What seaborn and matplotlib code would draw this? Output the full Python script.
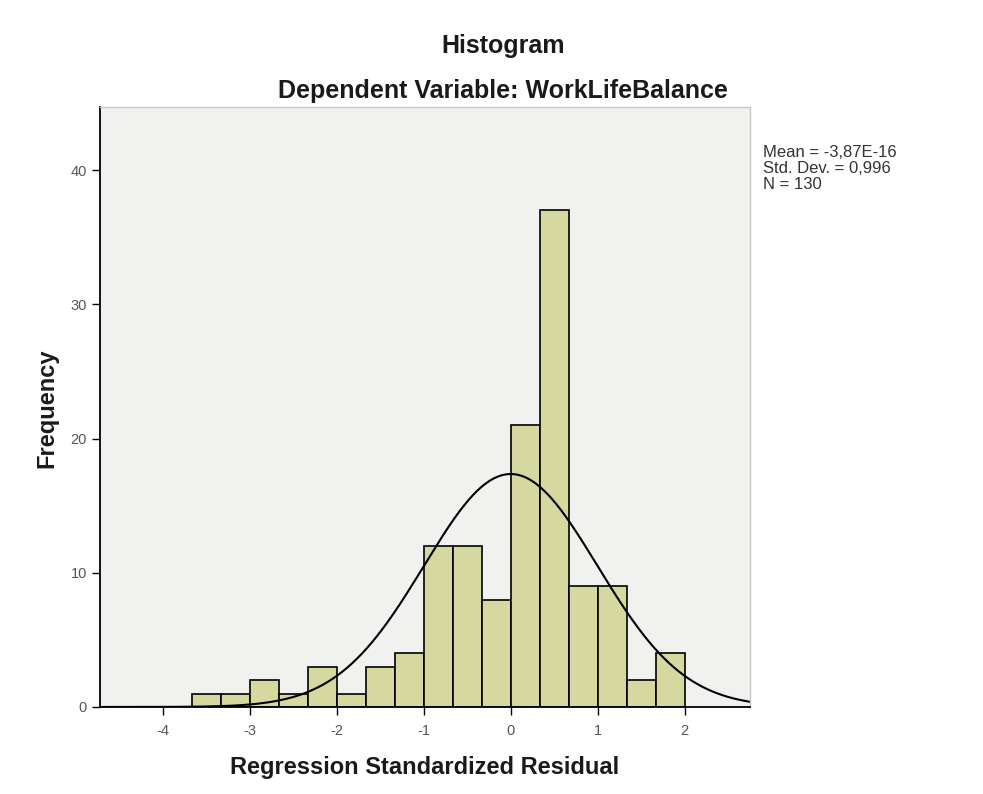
import numpy as np
import pandas as pd
import matplotlib
matplotlib.use("Agg")
import matplotlib.pyplot as plt
import seaborn as sns

# bin counts (bin width 1/3, first edge -3.667)
bin_start = -11 / 3
bin_width = 1 / 3
counts = [1, 1, 2, 1, 3, 1, 3, 4, 12, 12, 8, 21, 37, 9, 9, 2, 4]

stat_mean = -3.87e-16
stat_sd = 0.996
stat_n = 130

x_ticks = [-4, -3, -2, -1, 0, 1, 2]
y_ticks = [0, 10, 20, 30, 40]

edges = bin_start + bin_width * np.arange(len(counts) + 1)
df = pd.DataFrame({"resid": (edges[:-1] + edges[1:]) / 2, "n": counts})

sns.set_style("white")
plt.rcParams["font.family"] = ["Liberation Sans", "DejaVu Sans"]
plt.rcParams["axes.unicode_minus"] = False

fig = plt.figure(figsize=(9.83, 7.94), dpi=100)
ax = fig.add_axes([0.1017, 0.1096, 0.6613, 0.7556])
ax.set_facecolor("#f1f1f0")

sns.histplot(data=df, x="resid", weights="n", bins=list(edges), ax=ax,
             color="#d5d9a0", edgecolor="black", linewidth=1.2, alpha=1)

# normal curve scaled to counts
xs = np.linspace(-4.72, 2.75, 400)
pdf = np.exp(-0.5 * ((xs - stat_mean) / stat_sd) ** 2) / (stat_sd * np.sqrt(2 * np.pi))
sns.lineplot(x=xs, y=pdf * stat_n * bin_width, ax=ax, color="black", linewidth=1.5)

ax.set_xlim(-4.72, 2.75)
ax.set_ylim(0, 44.7)
ax.set_xticks(x_ticks)
ax.set_yticks(y_ticks)
ax.tick_params(axis="both", bottom=True, left=True, direction="out", length=6, width=1,
               colors="black", labelsize=10.5, labelcolor="#555555")
ax.tick_params(axis="x", pad=6)
for side in ["left", "bottom"]:
    ax.spines[side].set_color("black")
    ax.spines[side].set_linewidth(1.3)
for side in ["top", "right"]:
    ax.spines[side].set_color("#c8c8c8")
    ax.spines[side].set_linewidth(1)

ax.set_xlabel("")
ax.set_ylabel("")
fig.text(0.432, 0.034, "Regression Standardized Residual", ha="center", va="center",
         fontsize=17, fontweight="bold", color="#1a1a1a")
fig.text(0.048, 0.486, "Frequency", ha="center", va="center", rotation=90,
         fontsize=17, fontweight="bold", color="#1a1a1a")

fig.text(0.512, 0.942, "Histogram", ha="center", va="center", fontsize=18,
         fontweight="bold", color="#1a1a1a")
fig.text(0.512, 0.886, "Dependent Variable: WorkLifeBalance", ha="center", va="center",
         fontsize=18, fontweight="bold", color="#1a1a1a")

fig.text(0.776, 0.818, f"Mean = -3,87E-16\nStd. Dev. = 0,996\nN = {stat_n}",
         ha="left", va="top", fontsize=12, color="#333333", linespacing=1.12)

fig.savefig("out.png", dpi=100, facecolor="white")
